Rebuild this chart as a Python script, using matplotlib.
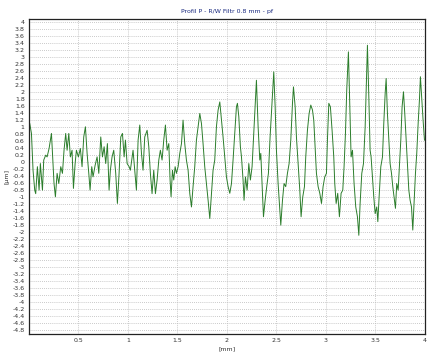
import numpy as np
import matplotlib
matplotlib.use("Agg")
import matplotlib.pyplot as plt
from matplotlib.ticker import FuncFormatter

# profil: pozycja [mm], wysokosc [um]
x_mm = [
    0.009, 0.026, 0.042, 0.059, 0.069, 0.086, 0.103, 0.116, 0.137, 0.150,
    0.170, 0.184, 0.204, 0.228, 0.244, 0.254, 0.268, 0.285, 0.302, 0.322,
    0.339, 0.355, 0.372, 0.386, 0.403, 0.419, 0.436, 0.450, 0.467, 0.480,
    0.500, 0.520, 0.537, 0.554, 0.571, 0.588, 0.605, 0.618, 0.635, 0.648,
    0.669, 0.689, 0.706, 0.726, 0.743, 0.760, 0.776, 0.793, 0.810, 0.823,
    0.840, 0.857, 0.877, 0.894, 0.911, 0.928, 0.945, 0.962, 0.975, 0.992,
    1.012, 1.025, 1.039, 1.052, 1.069, 1.086, 1.103, 1.120, 1.137, 1.153,
    1.170, 1.194, 1.211, 1.227, 1.244, 1.261, 1.278, 1.295, 1.312, 1.328,
    1.345, 1.362, 1.379, 1.396, 1.413, 1.426, 1.436, 1.450, 1.463, 1.477,
    1.490, 1.507, 1.524, 1.541, 1.557, 1.574, 1.591, 1.608, 1.625, 1.642,
    1.658, 1.675, 1.692, 1.709, 1.726, 1.743, 1.759, 1.776, 1.793, 1.810,
    1.827, 1.844, 1.860, 1.877, 1.894, 1.911, 1.928, 1.945, 1.961, 1.978,
    1.995, 2.012, 2.029, 2.046, 2.062, 2.079, 2.096, 2.106, 2.120, 2.136,
    2.147, 2.163, 2.173, 2.187, 2.204, 2.221, 2.237, 2.254, 2.271, 2.285,
    2.298, 2.315, 2.332, 2.342, 2.355, 2.369, 2.386, 2.402, 2.419, 2.436,
    2.453, 2.473, 2.487, 2.500, 2.517, 2.534, 2.544, 2.561, 2.577, 2.594,
    2.611, 2.628, 2.645, 2.662, 2.672, 2.689, 2.702, 2.719, 2.736, 2.749,
    2.766, 2.783, 2.796, 2.813, 2.830, 2.847, 2.864, 2.877, 2.891, 2.904,
    2.921, 2.938, 2.955, 2.971, 2.988,
    3.005, 3.015, 3.029, 3.045, 3.062, 3.079, 3.089, 3.103, 3.119, 3.136,
    3.153, 3.170, 3.183, 3.197, 3.210, 3.227, 3.241, 3.254, 3.268, 3.284,
    3.301, 3.318, 3.332, 3.345, 3.362, 3.379, 3.396, 3.409, 3.419, 3.433,
    3.446, 3.456, 3.470, 3.483, 3.497, 3.513, 3.524, 3.537, 3.554, 3.571,
    3.584, 3.598, 3.608, 3.621, 3.635, 3.648, 3.662, 3.675, 3.688, 3.702,
    3.715, 3.729, 3.742, 3.756, 3.769, 3.783, 3.796, 3.810, 3.823, 3.837,
    3.850, 3.864, 3.877, 3.891, 3.904, 3.917, 3.931, 3.944, 3.954, 3.968,
    3.981, 3.995,
]
z_um = [
    1.10, 0.82, -0.23, -0.80, -0.90, -0.13, -0.80, -0.04, -0.80, 0.06,
    0.20, 0.15, 0.39, 0.82, -0.04, -0.61, -0.99, -0.32, -0.61, -0.13,
    -0.32, 0.34, 0.82, 0.34, 0.82, 0.15, 0.34, -0.75, -0.04, 0.34,
    0.15, 0.39, -0.13, 0.72, 1.01, 0.25, -0.32, -0.80, -0.13, -0.42,
    -0.09, 0.15, -0.32, 0.72, 0.15, 0.44, -0.04, 0.53, -0.80, -0.23,
    0.15, 0.34, -0.32, -1.18, -0.32, 0.72, 0.82, 0.15, 0.63, -0.04,
    -0.13, -0.23, 0.06, 0.34, -0.23, -0.80, 0.63, 1.06, 0.25, -0.23,
    0.72, 0.91, 0.44, -0.32, -0.90, -0.23, -0.90, -0.51, 0.06, 0.34,
    0.06, 0.63, 1.06, 0.34, 0.53, -0.51, -0.99, -0.23, -0.51, -0.13,
    -0.32, -0.13, 0.25, 0.53, 1.20, 0.53, 0.06, -0.23, -0.90, -1.28,
    -0.70, -0.13, 0.63, 1.01, 1.39, 1.10, 0.53, -0.13, -0.61, -1.09,
    -1.61, -0.90, -0.23, 0.06, 1.01, 1.49, 1.72, 1.20, 0.72, 0.15,
    -0.42, -0.70, -0.89, -0.61, 0.06, 0.82, 1.58, 1.68, 1.30, 0.44,
    0.15, -0.51, -1.09, -0.42, -0.80, -0.04, -0.51, -0.13, 0.82, 1.58,
    2.34, 1.01, 0.06, 0.25, -0.61, -1.56, -1.09, -0.70, -0.32, 0.72,
    1.58, 2.58, 1.58, 0.34, -0.61, -1.37, -1.80, -1.09, -0.61, -0.70,
    -0.32, -0.04, 0.63, 1.68, 2.15, 1.58, 0.72, -0.04, -0.80, -1.56,
    -0.99, -0.70, 0.15, 0.91, 1.39, 1.63, 1.49, 1.20, 0.44, -0.32,
    -0.70, -0.89, -1.18, -0.70, -0.42,
    -0.32, 0.63, 1.68, 1.58, 0.91, 0.15, -0.61, -1.18, -0.89, -1.56,
    -0.89, -0.80, -0.13, 0.82, 2.06, 3.15, 1.58, 0.15, 0.34, -0.61,
    -1.28, -1.56, -2.09, -1.18, -0.32, -0.04, 1.01, 2.34, 3.34, 1.87,
    0.34, 0.15, -0.42, -0.99, -1.47, -1.28, -1.70, -0.99, -0.13, 0.15,
    1.10, 1.96, 2.39, 1.39, 0.63, -0.04, -0.32, -0.70, -0.99, -1.32,
    -0.61, -0.80, -0.13, 0.63, 1.58, 2.01, 1.39, 0.63, -0.13, -0.80,
    -1.09, -1.28, -1.94, -1.09, -0.32, 0.25, 1.10, 1.77, 2.44, 1.77,
    1.20, 0.63,
]

# opisy osi
x_ticks = [0.5, 1, 1.5, 2, 2.5, 3, 3.5, 4]
y_ticks = [round(-4.8 + 0.2 * i, 1) for i in range(45)]

fig = plt.figure(figsize=(4.31, 3.58), dpi=100)
ax = fig.add_axes([0.067, 0.067, 0.919, 0.880])

ax.plot(x_mm, z_um, color='#2b7d2b', linewidth=0.7)

ax.set_xlim(0, 4)
ax.set_ylim(-4.91, 4.09)
ax.set_xticks(x_ticks)
ax.set_yticks(y_ticks)
fmt = FuncFormatter(lambda v, pos: '%g' % round(v, 1))
ax.xaxis.set_major_formatter(fmt)
ax.yaxis.set_major_formatter(fmt)

ax.grid(True, which='major', color='#b8b8b8', linestyle=(0, (1, 1.5)), linewidth=0.6)
ax.tick_params(axis='both', labelsize=4.5, length=0, pad=3, colors='#333333')
for side in ax.spines.values():
    side.set_color('#222222')
    side.set_linewidth(0.9)

ax.set_xlabel('[mm]', fontsize=4.5, labelpad=2, color='#333333')
ax.set_ylabel('[µm]', fontsize=4.5, labelpad=2, color='#333333')
ax.set_title('Profil P - R/W Filtr 0.8 mm - pf', fontsize=4.5, color='#1a2a80', pad=4)

fig.savefig('out.png', dpi=100)
